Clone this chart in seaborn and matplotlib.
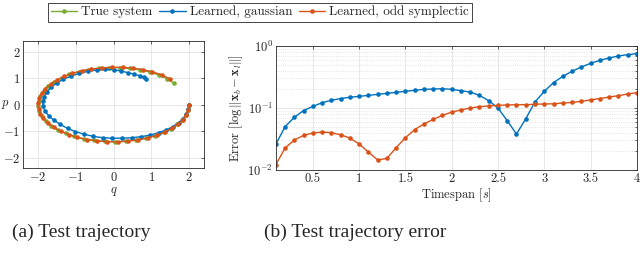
import numpy as np
import pandas as pd
import seaborn as sns
import matplotlib.pyplot as plt

# trajectory in phase space (q, p)
true_q = [2.00, 1.98, 1.92, 1.82, 1.69, 1.52, 1.33, 1.10, 0.86, 0.59, 0.32, 0.04, -0.24, -0.52,
          -0.79, -1.04, -1.27, -1.47, -1.65, -1.79, -1.90, -1.97, -2.00, -1.99, -1.94, -1.85,
          -1.73, -1.57, -1.38, -1.17, -0.93, -0.67, -0.40, -0.12, 0.16, 0.44, 0.71, 0.97, 1.20,
          1.42, 1.60]
true_p = [0.00, -0.20, -0.39, -0.57, -0.75, -0.91, -1.05, -1.17, -1.26, -1.34, -1.38, -1.40, -1.39,
          -1.35, -1.29, -1.20, -1.08, -0.95, -0.80, -0.63, -0.44, -0.25, -0.06, 0.14, 0.34, 0.52,
          0.70, 0.86, 1.01, 1.14, 1.24, 1.32, 1.37, 1.40, 1.40, 1.37, 1.31, 1.23, 1.12, 0.98, 0.80]

gauss_q = [2.00, 1.98, 1.93, 1.84, 1.72, 1.57, 1.39, 1.19, 0.97, 0.73, 0.48, 0.23, -0.03, -0.29,
           -0.54, -0.78, -1.01, -1.22, -1.41, -1.58, -1.72, -1.82, -1.87, -1.88, -1.84, -1.77,
           -1.66, -1.51, -1.33, -1.13, -0.91, -0.68, -0.45, -0.22, 0.00, 0.20, 0.38, 0.55, 0.70,
           0.80, 0.87]
gauss_p = [0.00, -0.18, -0.36, -0.53, -0.69, -0.83, -0.96, -1.06, -1.15, -1.21, -1.25, -1.27, -1.27,
           -1.25, -1.20, -1.12, -1.02, -0.90, -0.75, -0.59, -0.42, -0.24, -0.06, 0.12, 0.30, 0.48,
           0.65, 0.81, 0.96, 1.08, 1.18, 1.26, 1.31, 1.33, 1.32, 1.27, 1.21, 1.15, 1.09, 1.03, 0.97]

odd_q = [2.00, 1.98, 1.92, 1.83, 1.70, 1.54, 1.35, 1.14, 0.90, 0.65, 0.38, 0.11, -0.17, -0.44,
         -0.71, -0.96, -1.19, -1.40, -1.58, -1.74, -1.86, -1.94, -1.99, -2.00, -1.97, -1.91,
         -1.81, -1.67, -1.51, -1.31, -1.09, -0.85, -0.59, -0.32, -0.04, 0.24, 0.51, 0.78, 1.03,
         1.27, 1.49]
odd_p = [0.00, -0.19, -0.38, -0.57, -0.74, -0.90, -1.04, -1.16, -1.26, -1.33, -1.38, -1.41, -1.40,
         -1.37, -1.32, -1.24, -1.13, -1.01, -0.86, -0.70, -0.52, -0.34, -0.15, 0.05, 0.24, 0.43,
         0.61, 0.78, 0.93, 1.07, 1.19, 1.28, 1.35, 1.39, 1.41, 1.41, 1.38, 1.32, 1.24, 1.13, 0.98]

# error vs timespan
timespan = [0.1, 0.2, 0.3, 0.4, 0.5, 0.6, 0.7, 0.8, 0.9, 1.0, 1.1, 1.2, 1.3, 1.4, 1.5, 1.6, 1.7,
            1.8, 1.9, 2.0, 2.1, 2.2, 2.3, 2.4, 2.5, 2.6, 2.7, 2.8, 2.9, 3.0, 3.1, 3.2, 3.3, 3.4,
            3.5, 3.6, 3.7, 3.8, 3.9, 4.0]
err_gauss = [0.026, 0.050, 0.071, 0.091, 0.106, 0.122, 0.133, 0.142, 0.149, 0.154, 0.160, 0.166,
             0.172, 0.179, 0.186, 0.193, 0.200, 0.202, 0.205, 0.200, 0.190, 0.181, 0.160, 0.131,
             0.100, 0.0625, 0.038, 0.067, 0.125, 0.186, 0.256, 0.324, 0.390, 0.458, 0.525, 0.587,
             0.640, 0.690, 0.725, 0.752]
err_odd = [0.0122, 0.0226, 0.0305, 0.0362, 0.0395, 0.041, 0.040, 0.037, 0.0328, 0.0263, 0.0195,
           0.0145, 0.0154, 0.0229, 0.0332, 0.0448, 0.0552, 0.0656, 0.0762, 0.086, 0.093, 0.100,
           0.105, 0.108, 0.110, 0.112, 0.113, 0.113, 0.115, 0.116, 0.117, 0.120, 0.123, 0.128,
           0.135, 0.142, 0.150, 0.158, 0.168, 0.177]

labels = ["True system", "Learned, gaussian", "Learned, odd symplectic"]
colors = ["#77AC30", "#0072BD", "#D95319"]

sns.set_style("white")
plt.rcParams["font.family"] = "cmr10"
plt.rcParams["mathtext.fontset"] = "cm"
plt.rcParams["axes.formatter.use_mathtext"] = True
plt.rcParams["font.size"] = 9

fig = plt.figure(figsize=(6.4, 2.69), dpi=100)
ax1 = fig.add_axes([0.036, 0.375, 0.283, 0.472])
ax2 = fig.add_axes([0.431, 0.368, 0.564, 0.461])

traj = [(true_q, true_p), (gauss_q, gauss_p), (odd_q, odd_p)]
for (q, p), lab, c in zip(traj, labels, colors):
    df = pd.DataFrame({"q": q, "p": p})
    sns.lineplot(data=df, x="q", y="p", sort=False, estimator=None, ax=ax1, color=c,
                 marker="o", markersize=3.3, markeredgewidth=0, linewidth=1, label=lab)

err = pd.DataFrame({"t": timespan * 2, "err": err_gauss + err_odd,
                    "model": [labels[1]] * len(timespan) + [labels[2]] * len(timespan)})
sns.lineplot(data=err, x="t", y="err", hue="model", palette=colors[1:], ax=ax2,
             marker="o", markersize=3.3, markeredgewidth=0, linewidth=1, legend=False)

ax1.set_xlim(-2.4, 2.4)
ax1.set_ylim(-2.4, 2.4)
ax1.set_xticks([-2, -1, 0, 1, 2])
ax1.set_yticks([-2, -1, 0, 1, 2])
ax1.set_xlabel("$q$", labelpad=1)
ax1.set_ylabel("$p$", rotation=0, ha="center", va="center")
ax1.yaxis.set_label_coords(-0.1, 0.5)

ax2.set_yscale("log")
ax2.set_xlim(0.1, 4)
ax2.set_ylim(1e-2, 1)
ax2.set_xticks([0.5, 1, 1.5, 2, 2.5, 3, 3.5, 4])
ax2.set_xticklabels(["0.5", "1", "1.5", "2", "2.5", "3", "3.5", "4"])
ax2.set_xlabel("Timespan [$s$]", labelpad=1)
ax2.set_ylabel(r"Error $[\log\Vert\mathbf{x}_b-\mathbf{x}_l\Vert]$", labelpad=2)
ax2.grid(True, which="minor", axis="y", color="#dddddd", linestyle=":", linewidth=0.6)

for ax in (ax1, ax2):
    ax.grid(True, which="major", color="#e4e4e4", linewidth=0.6)
    ax.set_axisbelow(True)
    ax.tick_params(which="both", direction="in", top=True, right=True, length=2.5,
                   width=0.5, color="#262626", labelsize=9, pad=2)
    ax.tick_params(which="minor", length=1.5)
    for s in ax.spines.values():
        s.set_color("#262626")
        s.set_linewidth(0.6)

handles, labs = ax1.get_legend_handles_labels()
ax1.get_legend().remove()
leg = fig.legend(handles, labs, loc="center", bbox_to_anchor=(0.406, 0.955), ncol=3,
                 fancybox=False, edgecolor="#262626", framealpha=1, fontsize=9.5,
                 handlelength=2.0, handletextpad=0.3, columnspacing=0.5,
                 borderpad=0.25)
leg.get_frame().set_linewidth(0.6)

fig.text(0.127, 0.137, "(a) Test trajectory", ha="center", va="center",
         family="Liberation Serif", fontsize=14)
fig.text(0.555, 0.137, "(b) Test trajectory error", ha="center", va="center",
         family="Liberation Serif", fontsize=14)

fig.savefig("out.png", dpi=100)
